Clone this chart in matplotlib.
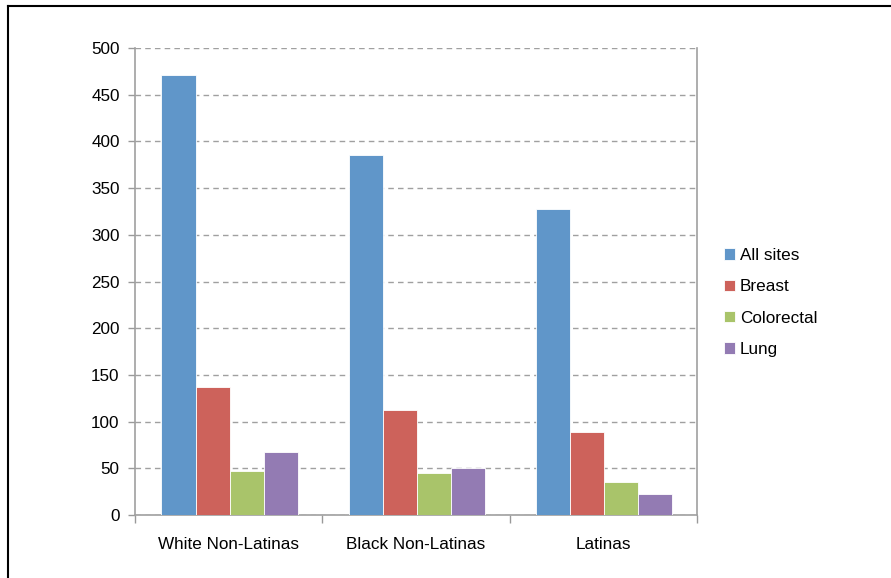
import numpy as np
import matplotlib.pyplot as plt
from matplotlib.lines import Line2D

plt.rcParams['font.family'] = ['Liberation Sans', 'DejaVu Sans']

groups = ['White Non-Latinas', 'Black Non-Latinas', 'Latinas']
series = ['All sites', 'Breast', 'Colorectal', 'Lung']
all_sites = [471, 385, 328]
breast = [137, 112, 89]
colorectal = [47, 45, 35]
lung = [67, 50, 22]
colors = ['#6096c9', '#cd625b', '#a9c46a', '#937bb3']

W, H = 891, 578
fig = plt.figure(figsize=(W / 100, H / 100), dpi=100)
ax = fig.add_axes([135 / W, 1 - 515 / H, (697 - 135) / W, (515 - 48) / H])

x = np.arange(len(groups))
bw = 0.182
for i, (vals, c, name) in enumerate(zip([all_sites, breast, colorectal, lung], colors, series)):
    ax.bar(x + (i - 1.5) * bw + 0.005, vals, bw, color=c, label=name,
           edgecolor='white', linewidth=0.6, zorder=3)

fs = 12.3
ax.set_xlim(-0.5, 2.5)
ax.set_ylim(0, 500)
ax.set_yticks(range(0, 501, 50))
ax.set_xticks(x)
ax.set_xticklabels(groups)
ax.set_xticks([-0.5, 0.5, 1.5, 2.5], minor=True)
ax.tick_params(axis='x', which='major', length=0, pad=16, labelsize=fs)
ax.tick_params(axis='x', which='minor', length=6, color='#999999', width=1, direction='out')
ax.tick_params(axis='y', length=5, color='#999999', width=1, pad=6, labelsize=fs)
ax.yaxis.grid(True, linestyle=(0, (4, 3)), color='#a0a0a0', linewidth=1)
ax.set_axisbelow(True)
for s in ['left', 'bottom', 'right']:
    ax.spines[s].set_color('#a0a0a0')
    ax.spines[s].set_linewidth(1.2)
ax.spines['top'].set_visible(False)

ax.legend(loc='center left', bbox_to_anchor=(1.02, 0.455), frameon=False,
          fontsize=fs, handlelength=0.65, handleheight=0.65, handletextpad=0.3,
          labelspacing=0.95)

fig.add_artist(Line2D([8 / W, 8 / W], [0, 1 - 6 / H], color='black', linewidth=1.5))
fig.add_artist(Line2D([8 / W, 1], [1 - 6 / H, 1 - 6 / H], color='black', linewidth=1.5))

fig.savefig('out.png', dpi=100)
